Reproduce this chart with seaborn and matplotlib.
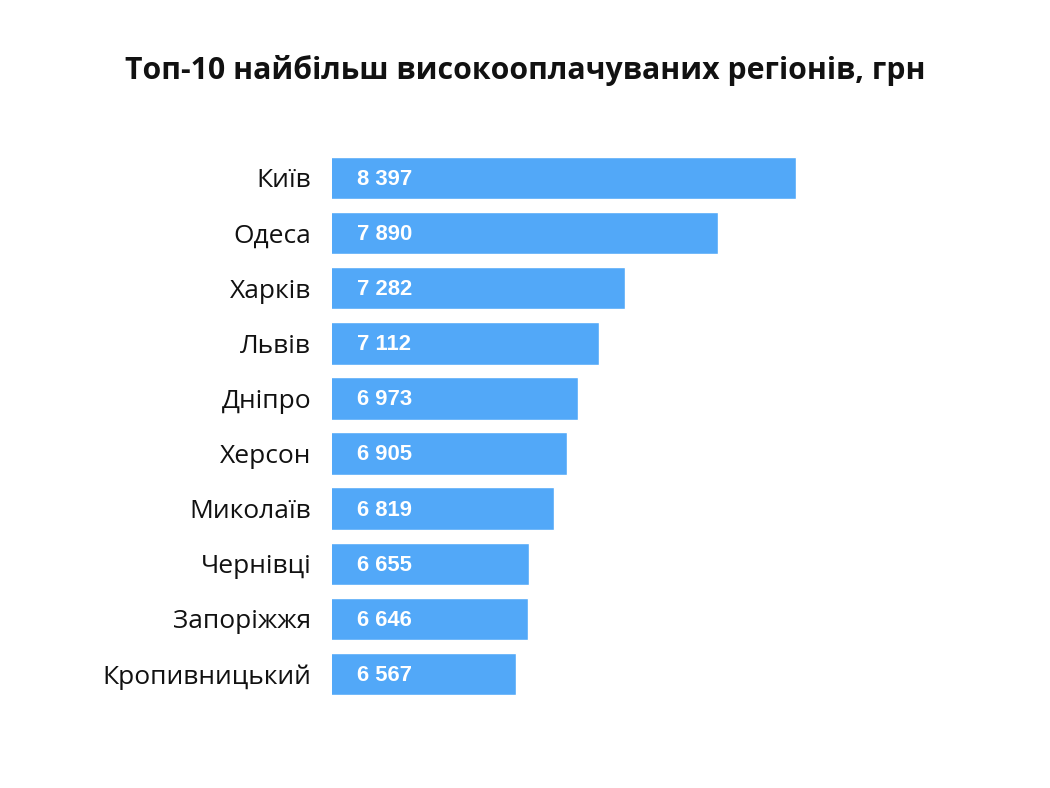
import matplotlib
matplotlib.use("Agg")
import matplotlib.pyplot as plt
import seaborn as sns
import pandas as pd

regions = ["Київ", "Одеса", "Харків", "Львів", "Дніпро", "Херсон",
           "Миколаїв", "Чернівці", "Запоріжжя", "Кропивницький"]
salaries = [8397, 7890, 7282, 7112, 6973, 6905, 6819, 6655, 6646, 6567]
title = "Топ-10 найбільш високооплачуваних регіонів, грн"

df = pd.DataFrame({"region": regions, "salary": salaries})

sns.set_theme(style="white")
plt.rcParams["font.family"] = ["Open Sans", "DejaVu Sans"]

fig = plt.figure(figsize=(10.5, 7.88), dpi=100)
ax = fig.add_axes([0.3162, 0.1096, 0.541, 0.6995])

sns.barplot(data=df, x="salary", y="region", orient="h", color="#52A8F8",
            saturation=1, width=0.77, ax=ax)

ax.set_xlim(5368, 9076)
ax.set_ylim(9.5, -0.5)
ax.set_xlabel("")
ax.set_ylabel("")
ax.set_xticks([])
for s in ax.spines.values():
    s.set_visible(False)
ax.tick_params(axis="y", length=0, pad=15, labelsize=19, labelcolor="#111111")
for lab in ax.get_yticklabels():
    lab.set_fontfamily(["Open Sans", "DejaVu Sans"])

for i, v in enumerate(salaries):
    ax.annotate(f"{v:,}".replace(",", " "), xy=(5368, i), xytext=(18, -1),
                textcoords="offset points", va="center", ha="left",
                color="white", fontsize=15.8, fontweight="bold",
                fontfamily=["Liberation Sans", "DejaVu Sans"])

fig.text(0.5, 1 - 70 / 788, title, ha="center", va="center",
         fontsize=21.8, fontweight="bold", color="#111111",
         fontfamily=["Open Sans", "DejaVu Sans"])

fig.savefig("out.png", dpi=100, facecolor="white")
